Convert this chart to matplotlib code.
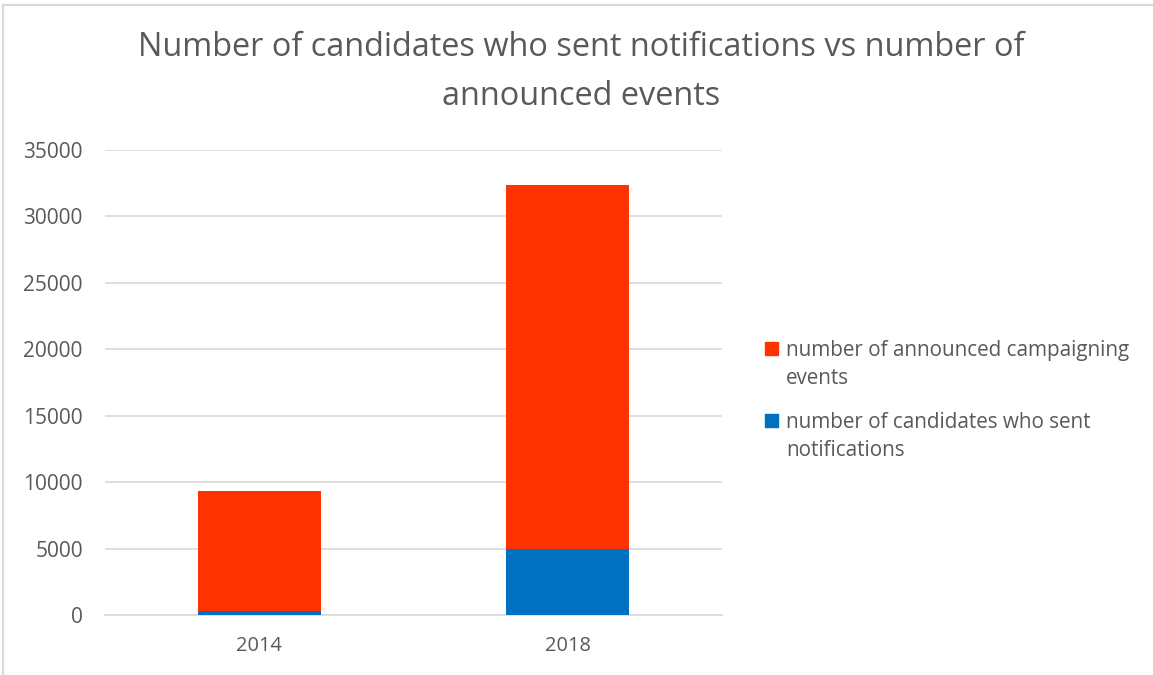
import matplotlib.pyplot as plt
from matplotlib.lines import Line2D
from matplotlib.patches import Rectangle

plt.rcParams['font.family'] = ['Open Sans', 'DejaVu Sans']

years = ['2014', '2018']
candidates = [330, 4930]
events_total = [9340, 32340]
events = [t - c for t, c in zip(events_total, candidates)]

blue = '#0070c0'
orange = '#ff3300'
grey = '#595959'

fig = plt.figure(figsize=(11.53, 6.75), dpi=100)
ax = fig.add_axes([0.0911, 0.0889, 0.535, 0.689])

x = range(len(years))
ax.bar(x, candidates, width=0.4, color=blue, zorder=3)
ax.bar(x, events, width=0.4, bottom=candidates, color=orange, zorder=3)

ax.set_xlim(-0.5, 1.5)
ax.set_ylim(0, 35000)
ax.set_yticks(range(0, 35001, 5000))
ax.set_xticks(list(x))
ax.set_xticklabels(years)
ax.yaxis.grid(True, color='#d9d9d9', linewidth=1.2, zorder=0)
for s in ax.spines.values():
    s.set_visible(False)
ax.spines['bottom'].set_visible(True)
ax.spines['bottom'].set_color('#d9d9d9')
ax.spines['bottom'].set_linewidth(1.2)
ax.tick_params(axis='x', length=0, labelsize=14.4, colors=grey, pad=15)
ax.tick_params(axis='y', length=0, labelsize=15, colors=grey, pad=16)

fig.text(0.504, 0.893, 'Number of candidates who sent notifications vs number of\nannounced events',
         ha='center', va='center', fontsize=23.4, color=grey, linespacing=1.62)

# legend, drawn by hand so the swatch sits on the first text line
labels = ['number of announced campaigning\nevents', 'number of candidates who sent\nnotifications']
colors = [orange, blue]
W, H = fig.get_size_inches() * fig.dpi
for i, (lab, col) in enumerate(zip(labels, colors)):
    ytop = 340 + 72 * i
    fig.add_artist(Rectangle((765 / W, 1 - (ytop + 15) / H), 13 / W, 13 / H,
                             transform=fig.transFigure, color=col))
    fig.text(786 / W, 1 - ytop / H, lab, ha='left', va='top', fontsize=14.9,
             color=grey, linespacing=1.44)

# chart border (top and left edges visible)
fig.add_artist(Line2D([0.0025, 1], [0.9925, 0.9925], color='#d9d9d9', linewidth=1.5))
fig.add_artist(Line2D([0.0025, 0.0025], [0, 0.9925], color='#d9d9d9', linewidth=1.5))

fig.savefig('out.png', dpi=100)
